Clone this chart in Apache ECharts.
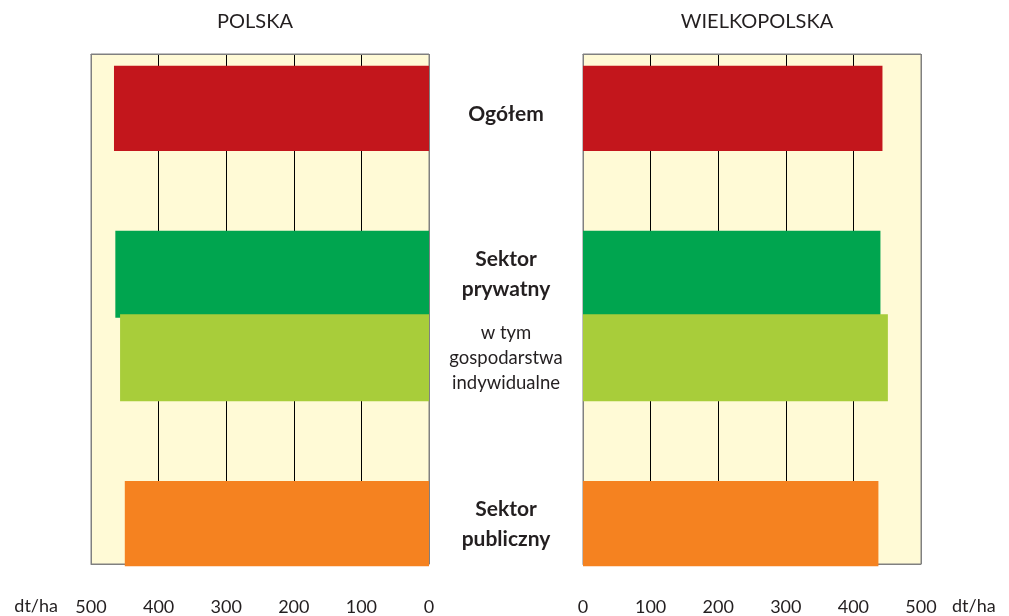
<!DOCTYPE html>
<html>
<head>
<meta charset="utf-8">
<script src="https://cdn.jsdelivr.net/npm/echarts@6/dist/echarts.min.js"></script>
<style>
  html, body { margin: 0; padding: 0; background: #fff; }
  #chart { width: 1009px; height: 616px; }
</style>
</head>
<body>
<div id="chart"></div>
<script>
// rows of the chart (top to bottom)
var categories = ['Ogółem', 'Sektor prywatny', 'w tym gospodarstwa indywidualne', 'Sektor publiczny'];
// yields in dt/ha
var polska = [466, 464, 457, 450];
var wielkopolska = [443, 440, 451, 437];
var ticks = [0, 100, 200, 300, 400, 500];

var colors = ['#c3161c', '#00a54f', '#a8cd3a', '#f58220'];
// empty spacer rows between groups
var rows = [categories[0], ' ', categories[1], categories[2], '  ', categories[3]];
var labelMap = {
  'Ogółem': '{o|Ogółem}',
  'Sektor prywatny': '{b|Sektor}\n{b|prywatny}',
  'w tym gospodarstwa indywidualne': '{n|w tym}\n{n|gospodarstwa}\n{n|indywidualne}',
  'Sektor publiczny': '{b|Sektor}\n{b|publiczny}'
};

function rowData(vals) {
  return rows.map(function (r) {
    var i = categories.indexOf(r);
    if (i < 0) return '-';
    return { value: vals[i], itemStyle: { color: colors[i] } };
  });
}

var font = 'Lato, "Noto Sans", sans-serif';
var txt = '#231f20';
var gray = '#808080';

function bgAxis(idx, inverse, nameGap) {
  return {
    gridIndex: idx, type: 'value', inverse: inverse,
    min: ticks[0], max: ticks[ticks.length - 1], interval: 100,
    axisLine: { show: true, lineStyle: { color: gray, width: 1 } }, axisTick: { show: false },
    splitLine: { show: true, lineStyle: { color: [gray, '#000', '#000', '#000', '#000', gray], width: 1 } },
    axisLabel: { color: txt, fontFamily: font, fontSize: 18, margin: 34 },
    name: 'dt/ha', nameLocation: 'end', nameGap: nameGap,
    nameTextStyle: { color: txt, fontFamily: font, fontSize: 18, verticalAlign: 'top', padding: [33, 0, 0, 0] }
  };
}
function topAxis(idx) {
  return {
    gridIndex: idx, type: 'value', position: 'top', min: 0, max: 1,
    axisLine: { show: true, lineStyle: { color: gray, width: 1 } },
    axisTick: { show: false }, axisLabel: { show: false }, splitLine: { show: false }
  };
}
function barAxis(idx, inverse) {
  return { gridIndex: idx, type: 'value', inverse: inverse, min: 0, max: 500, show: false };
}

var chart = echarts.init(document.getElementById('chart'));
var option = {
  backgroundColor: '#fff',
  animation: false,
  title: [
    { text: 'POLSKA', left: 250, top: 7, textAlign: 'center',
      textStyle: { color: txt, fontFamily: font, fontSize: 20, fontWeight: 'normal' } },
    { text: 'WIELKOPOLSKA', left: 752, top: 7, textAlign: 'center',
      textStyle: { color: txt, fontFamily: font, fontSize: 20, fontWeight: 'normal' } }
  ],
  grid: [
    { left: 91, width: 338, top: 54, height: 525, show: true, backgroundColor: '#fffad6', borderColor: gray, borderWidth: 1 },
    { left: 91, width: 338, top: 65.8, height: 500.4 },
    { left: 583, width: 338, top: 54, height: 525, show: true, backgroundColor: '#fffad6', borderColor: gray, borderWidth: 1 },
    { left: 583, width: 338, top: 65.8, height: 500.4 }
  ],
  xAxis: [
    bgAxis(0, true, 33), topAxis(0),
    barAxis(1, true),
    bgAxis(2, false, 31), topAxis(2),
    barAxis(3, false)
  ],
  yAxis: [
    { gridIndex: 0, type: 'value', show: false },
    {
      gridIndex: 1, type: 'category', data: rows, inverse: true, position: 'right',
      axisLine: { show: false }, axisTick: { show: false },
      axisLabel: {
        margin: 77, align: 'center',
        formatter: function (v) { return labelMap[v] || ''; },
        rich: {
          o: { fontFamily: font, fontSize: 21, fontWeight: 'bold', color: txt, lineHeight: 30, align: 'center', padding: [13, 0, 0, 0] },
          b: { fontFamily: font, fontSize: 21, fontWeight: 'bold', color: txt, lineHeight: 30, align: 'center' },
          n: { fontFamily: font, fontSize: 18.5, color: txt, lineHeight: 25, align: 'center' }
        }
      }
    },
    { gridIndex: 2, type: 'value', show: false },
    { gridIndex: 3, type: 'category', data: rows, inverse: true, show: false }
  ],
  series: [
    { type: 'bar', xAxisIndex: 2, yAxisIndex: 1, barWidth: 87, data: rowData(polska) },
    { type: 'bar', xAxisIndex: 5, yAxisIndex: 3, barWidth: 87, data: rowData(wielkopolska) }
  ]
};
chart.setOption(option);
</script>
</body>
</html>
